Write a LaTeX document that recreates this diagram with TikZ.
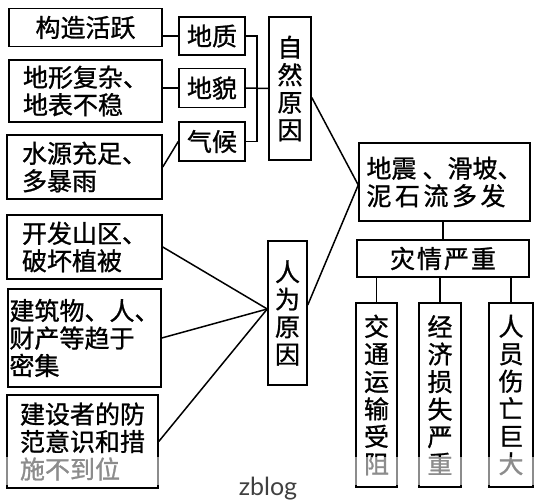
\documentclass[tikz,border=0pt]{standalone}
\usepackage{fontspec}
\setmainfont{Noto Sans CJK SC}[FakeBold=1]
\newfontfamily\wmfont{Lato}
\begin{document}
\begin{tikzpicture}[x=1pt,y=-1pt,
  box/.style={draw, line width=1.5pt, inner sep=0pt, fill=white, font=\fontsize{25}{27.5}\selectfont},
  conn/.style={line width=1.5pt}]
\useasboundingbox (0,0) rectangle (536,500);
% natural causes
\node[box, minimum width=153pt, minimum height=38pt] (gouzao) at (85.5,27.5) {构造活跃};
\node[box, minimum width=66pt, minimum height=38pt] (dizhi) at (212,36) {地质};
\node[box, align=left, minimum width=153pt, minimum height=62pt] (dixing) at (85.5,91) {地形复杂、\\地表不稳};
\node[box, minimum width=66pt, minimum height=39pt] (dimao) at (212,88) {地貌};
\node[box, align=left, minimum width=155pt, minimum height=64pt] (shuiyuan) at (84.5,167) {水源充足、\\多暴雨};
\node[box, minimum width=66pt, minimum height=39pt] (qihou) at (212,141.5) {气候};
\node[box, align=center, minimum width=42pt, minimum height=143pt] (nat) at (290,88.5) {自\\然\\原\\因};
% human causes
\node[box, align=left, minimum width=155pt, minimum height=64pt] (kaifa) at (84.5,247) {开发山区、\\破坏植被};
\node[box, align=left, minimum width=153pt, minimum height=98pt] (jianzhu) at (84.5,338) {建筑物、人、\\财产等趋于\\密集};
\node[box, align=left, minimum width=151pt, minimum height=93pt] (jianshe) at (82.5,441.5) {建设者的防\\范意识和措\\施不到位};
\node[box, align=center, minimum width=39pt, minimum height=144pt] (renwei) at (287.5,313) {人\\为\\原\\因};
% results
\node[box, align=left, minimum width=171pt, minimum height=78pt] (disaster) at (444.5,182) {地震\hspace{6pt}、滑坡、\\泥\kern3.5pt 石\kern3.5pt 流\kern3.5pt 多\kern3.5pt 发};
\node[box, minimum width=172pt, minimum height=37pt] (zaiqing) at (443,258.5) {灾\kern2pt 情\kern2pt 严\kern2pt 重};
\node[box, align=center, minimum width=41pt, minimum height=184pt] (col1) at (376.5,395) {交\\通\\运\\输\\受\\阻};
\node[box, align=center, minimum width=42pt, minimum height=184pt] (col2) at (440,395) {经\\济\\损\\失\\严\\重};
\node[box, align=center, minimum width=44pt, minimum height=184pt] (col3) at (511,395) {人\\员\\伤\\亡\\巨\\大};
% connectors
\draw[conn] (dizhi.west) -- (dizhi.west -| gouzao.east);
\draw[conn] (dimao.west) -- (dimao.west -| dixing.east);
\draw[conn] (shuiyuan.east) -- (qihou.west);
\draw[conn] (dizhi.east) -- ++(11,0) |- (qihou.east);
\draw[conn] (dimao.east) -- (nat.west);
\draw[conn] ([yshift=-9pt]nat.east) -- ([yshift=-3pt]disaster.west);
\draw[conn] ([yshift=8pt]renwei.east) -- ([yshift=-3pt]disaster.west);
\draw[conn] (kaifa.east) -- ([yshift=4pt]renwei.west);
\draw[conn] (jianzhu.east) -- ([yshift=4pt]renwei.west);
\draw[conn] (jianshe.east) -- ([yshift=4pt]renwei.west);
\draw[conn] (zaiqing.north) -- (zaiqing.north |- disaster.south);
\draw[conn] (col1.north) -- (col1.north |- zaiqing.south);
\draw[conn] (col2.north) -- (col2.north |- zaiqing.south);
\draw[conn] (col3.north) -- (col3.north |- zaiqing.south);
% fade band and watermark
\fill[white, opacity=0.55] (0,457) rectangle (536,485);
\node[font=\wmfont\fontsize{25}{25}\selectfont, text=black!75, inner sep=0pt] (wm) at (268,489) {zblog};
\end{tikzpicture}
\end{document}
